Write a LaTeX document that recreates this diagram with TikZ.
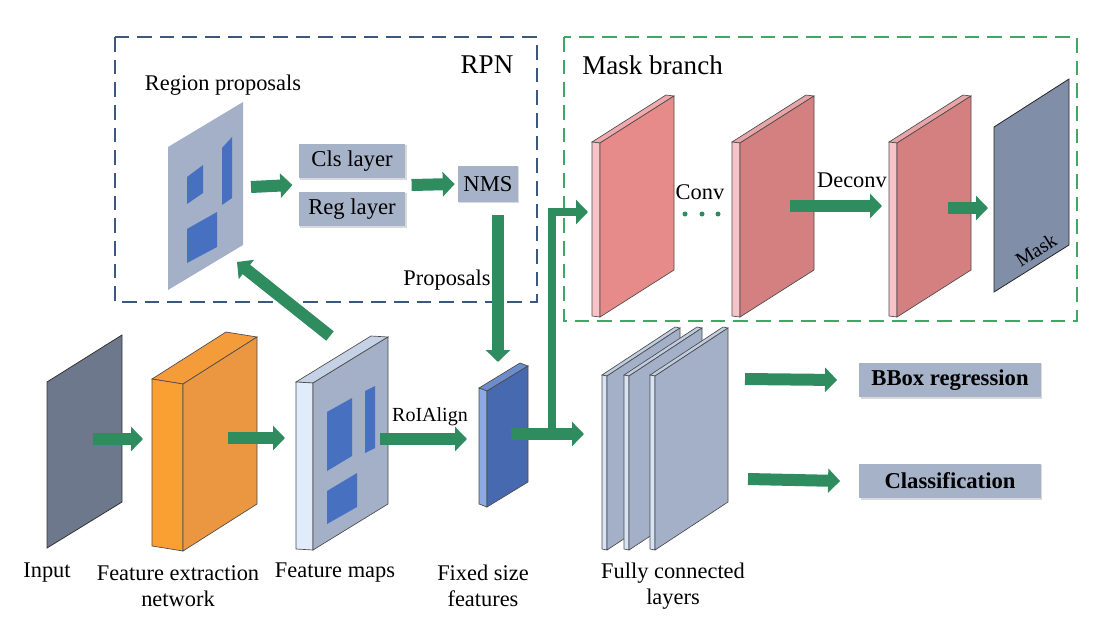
\documentclass[tikz,border=0pt]{standalone}
\usepackage{fontspec}
\setmainfont{Liberation Serif}
\usepackage{tikz}
\usetikzlibrary{positioning}
\usetikzlibrary{arrows.meta}
\usetikzlibrary{shadows}
\usetikzlibrary{calc}

\definecolor{flowgreen}{RGB}{46,140,95}
\definecolor{rpnblue}{RGB}{60,88,128}
\definecolor{maskgreen}{RGB}{60,170,100}
\definecolor{boxgray}{RGB}{165,178,200}
\definecolor{planegray}{RGB}{163,176,200}
\definecolor{inputgray}{RGB}{110,120,140}
\definecolor{maskgray}{RGB}{128,142,168}
\definecolor{roiblue}{RGB}{72,112,192}
\definecolor{fixedface}{RGB}{70,105,175}
\definecolor{fixedthin}{RGB}{140,170,225}
\definecolor{mapthin}{RGB}{225,236,250}
\definecolor{orangethin}{RGB}{250,160,50}
\definecolor{orangeface}{RGB}{235,150,65}
\definecolor{pinkthin}{RGB}{248,195,200}
\definecolor{pinkface}{RGB}{230,138,138}
\definecolor{pinkdark}{RGB}{212,128,128}
\definecolor{fcthin}{RGB}{215,228,245}

% x, y, thin width, drop, face width, rise, height, thin colour, face colour
\newcommand{\slab}[9]{%
	\filldraw[draw=black!70, line width=0.5pt, fill=#8!55!#9] (#1,#2) -- ({#1+#3},{#2+#4}) -- ({#1+#3+#5},{#2+#4-#6}) -- ({#1+#5},{#2-#6}) -- cycle;
	\filldraw[draw=black!70, line width=0.5pt, fill=#8] (#1,#2) -- ({#1+#3},{#2+#4}) -- ({#1+#3},{#2+#4+#7}) -- (#1,{#2+#7}) -- cycle;
	\filldraw[draw=black!70, line width=0.5pt, fill=#9] ({#1+#3},{#2+#4}) -- ++(#5,-#6) -- ++(0,#7) -- ++(-#5,#6) -- cycle;}

\begin{document}
\begin{tikzpicture}
	[x=0.75pt, y=-0.75pt,
	label/.style={font=\fontsize{16.8}{19.5}\selectfont, align=center, inner sep=0pt},
	title/.style={font=\fontsize{20.3}{23}\selectfont, inner sep=0pt},
	layer/.style={fill=boxgray, font=\fontsize{17}{19}\selectfont, minimum width=80pt, minimum height=26pt, inner sep=0pt, drop shadow={shadow xshift=1pt, shadow yshift=-1pt, opacity=0.3}},
	result/.style={layer, font=\bfseries\fontsize{17}{19}\selectfont, minimum width=136pt},
	flow/.style={draw=flowgreen, line width=9pt, -{Triangle[width=18pt, length=9pt]}},
	branch/.style={draw=flowgreen, line width=6pt, -{Triangle[width=18pt, length=9pt]}},
	region/.style={dashed, dash pattern=on 11pt off 6pt, line width=1.5pt}]
	\useasboundingbox (0,0) rectangle (1111,628);

	\draw[region, draw=rpnblue] (115,37) rectangle (537,302);
	\draw[region, draw=maskgreen] (564,37) rectangle (1077,321);
	\node[title] (rpn) at (487,65) {RPN};
	\node[title, anchor=west] (maskbranch) at (582,65) {Mask branch};

	\fill[planegray] (168,147) -- (243,102) -- (243,245) -- (168,290) -- cycle;
	\fill[roiblue] (187,177) -- (203,165) -- (203,193) -- (187,204) -- cycle;
	\fill[roiblue] (222,148) -- (232,137) -- (232,198) -- (222,205) -- cycle;
	\fill[roiblue] (187,229) -- (217,212) -- (217,247) -- (187,263) -- cycle;
	\node[label] (regionlabel) at (223,85) {Region proposals};

	\node[layer] (cls) at (352,161) {Cls layer};
	\node[layer] (reg) at (352,209) {Reg layer};
	\node[layer, minimum width=45pt, minimum height=27pt] (nms) at (488,184) {NMS};
	\node[label] (proposals) at (447,280) {Proposals};

	\filldraw[fill=inputgray, draw=black!80, line width=0.6pt] (47,382) -- (122,335) -- (122,502) -- (47,548) -- cycle;
	\slab{152}{379}{31}{5}{74}{47}{167}{orangethin}{orangeface}
	\slab{296}{382}{17}{1}{75}{46}{167}{mapthin}{planegray}
	\fill[roiblue] (327,412) -- (352,398) -- (352,456) -- (327,471) -- cycle;
	\fill[roiblue] (365,391) -- (375,386) -- (375,448) -- (365,453) -- cycle;
	\fill[roiblue] (327,491) -- (357,473) -- (357,507) -- (327,524) -- cycle;
	\slab{479}{388}{8}{3}{41}{25}{116}{fixedthin}{fixedface}
	\node[label, font=\fontsize{15}{17}\selectfont] (roialign) at (430,417) {RoIAlign};

	\slab{592}{142}{8}{1}{74}{47}{174}{pinkthin}{pinkface}
	\slab{732}{142}{8}{1}{74}{47}{174}{pinkthin}{pinkdark}
	\slab{889}{142}{8}{1}{74}{47}{174}{pinkthin}{pinkdark}
	\filldraw[fill=maskgray, draw=black!85, line width=0.6pt] (994,127) -- (1069,79) -- (1069,245) -- (994,292) -- cycle;
	\node[font=\fontsize{15}{17}\selectfont, rotate=32, inner sep=0pt] (masklabel) at (1036,250) {Mask};
	\node[label] (conv) at (700,192) {Conv};
	\node[label] (deconv) at (852,180) {Deconv};
	\foreach \dx in {685,702,718}
		\fill[flowgreen] (\dx,214) circle (2.5);

	\slab{602}{375}{5}{1}{73}{48}{174}{fcthin}{planegray}
	\slab{624}{375}{5}{1}{73}{48}{174}{fcthin}{planegray}
	\slab{650}{375}{5}{1}{73}{48}{174}{fcthin}{planegray}

	\node[result] (bbox) at (950,380) {BBox regression};
	\node[result] (classif) at (950,481) {Classification};

	\node[label] (inputlabel) at (47,573) {Input};
	\node[label] (extractlabel) at (178,586) {Feature extraction\\network};
	\node[label] (mapslabel) at (335,573) {Feature maps};
	\node[label] (fixedlabel) at (483,586) {Fixed size\\features};
	\node[label] (fclabel) at (673,586) {Fully connected\\layers};

	\coordinate (inputout) at (93,439);
	\coordinate (extractin) at (143,439);
	\coordinate (extractout) at (228,438);
	\coordinate (mapsin) at (285,438);
	\coordinate (mapsout) at (380,439);
	\coordinate (mapstop) at (330,336);
	\coordinate (regionin) at (237,262);
	\coordinate (regionout) at (251,187);
	\coordinate (fixedin) at (467,439);
	\coordinate (fixedtop) at (498,362);
	\coordinate (fixedout) at (511,434);
	\coordinate (fcin) at (584,434);
	\coordinate (split) at (552,430);
	\coordinate (pinkin) at (588,212);
	\coordinate (convout) at (790,206);
	\coordinate (deconvin) at (882,206);
	\coordinate (deconvout) at (948,208);
	\coordinate (maskin) at (988,208);
	\coordinate (fcout) at (745,379);
	\coordinate (fcout2) at (748,479);

	\draw[flow] (inputout) -- (extractin);
	\draw[flow] (extractout) -- (mapsin);
	\draw[flow] (mapsout) -- (fixedin);
	\draw[flow] (mapstop) -- (regionin);
	\draw[flow] (regionout) -- ($(cls.west)!0.5!(reg.west)+(-6,0)$);
	\draw[flow] ($(cls.east)!0.5!(reg.east)+(6,0)$) -- ($(nms.west)+(-3,0)$);
	\draw[flow] ($(nms.south)+(10,13)$) -- (fixedtop);
	\draw[flow] (fixedout) -- (fcin);
	\draw[branch, line join=miter] (split) |- (pinkin);
	\draw[flow] (convout) -- (deconvin);
	\draw[flow] (deconvout) -- (maskin);
	\draw[flow] (fcout) -- ($(bbox.west)+(-22,0)$);
	\draw[flow] (fcout2) -- ($(classif.west)+(-19,0)$);
\end{tikzpicture}
\end{document}
